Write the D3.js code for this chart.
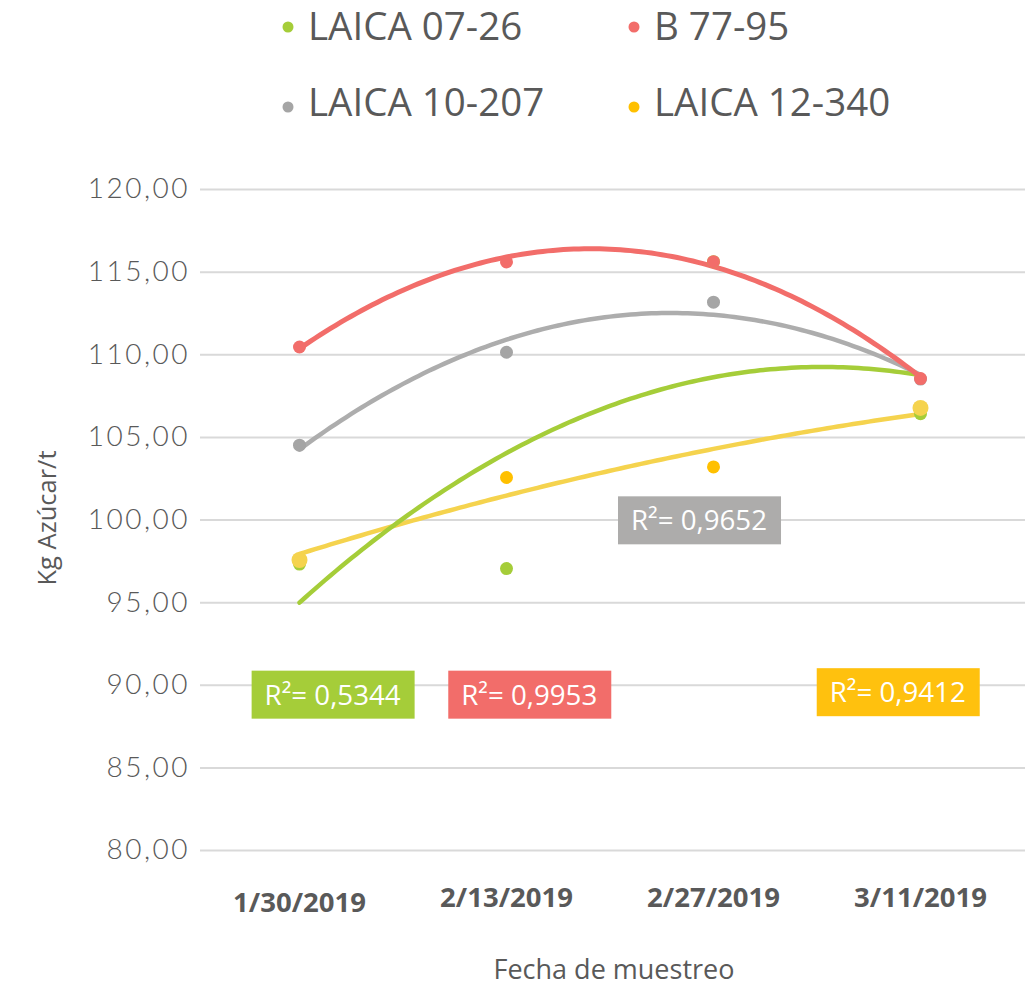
<!DOCTYPE html>
<html>
<head>
<meta charset="utf-8">
<script src="https://cdn.jsdelivr.net/npm/d3@7"></script>
<style>
  body { margin: 0; background: #fff; }
  svg { display: block; }
</style>
</head>
<body>
<div id="chart"></div>
<script>
// ************data**********************************
const dates = ["1/30/2019", "2/13/2019", "2/27/2019", "3/11/2019"]
const seriesNames = ["LAICA 07-26", "B 77-95", "LAICA 10-207", "LAICA 12-340"]
const laica0726 = [97.3, 97.03, 115.6, 106.4]
const b7795 = [110.44, 115.59, 115.6, 108.53]
const laica10207 = [104.5, 110.12, 113.15, 108.5]
const laica12340 = [97.55, 102.54, 103.18, 106.75]
const r2Labels = ["R²= 0,5344", "R²= 0,9953", "R²= 0,9652", "R²= 0,9412"]
const yTicks = [80, 85, 90, 95, 100, 105, 110, 115, 120]

// ************layout / colours***************
const W = 1025, H = 989
const gridLeft = 200, gridRight = 1025
const pointColor = ["#a5cd39", "#f26d6a", "#a5a5a5", "#ffc000"]
const trendColor = ["#a5cd39", "#f26d6a", "#adadad", "#f5d34e"]
const boxColor = ["#a5cd39", "#f26d6a", "#adacab", "#ffc10e"]
// where each R² box sits, in (category position, value) units
const labelPos = [[1.16, 89.4], [2.11, 89.4], [2.93, 99.95], [3.89, 89.55]]
const textColor = "#595959"

const series = [laica0726, b7795, laica10207, laica12340]

const svg = d3.select("#chart")
  .append("svg")
  .attr("width", W)
  .attr("height", H)

const x = d3.scaleBand()
  .domain(dates)
  .range([196, 1024])
const xc = (d) => x(d) + x.bandwidth() / 2

// category index (1..4) -> pixel, used by the trend curves and labels
const xi = d3.scaleLinear()
  .domain([1, dates.length])
  .range([xc(dates[0]), xc(dates[dates.length - 1])])

const y = d3.scaleLinear()
  .domain([80, 120])
  .range([850, 189])

// gridlines + y labels
const yAxis = d3.axisLeft(y)
  .tickValues(yTicks)
  .tickSize(-(gridRight - gridLeft))
  .tickPadding(10)
  .tickFormat((d) => d3.format(".2f")(d).replace(".", ","))

svg.append("g")
  .attr("class", "y-axis")
  .attr("transform", "translate(" + gridLeft + ",0)")
  .call(yAxis)
  .call((g) => g.select(".domain").remove())
  .call((g) => g.selectAll("line").attr("stroke", "#d9d9d9").attr("stroke-width", 2))
  .call((g) => g.selectAll("text")
    .attr("fill", textColor)
    .style("font-family", "Lato, 'Open Sans', sans-serif")
    .style("font-weight", 300)
    .style("font-size", "28px")
    .style("letter-spacing", "2.5px"))

// x labels
svg.append("g")
  .attr("class", "x-axis")
  .selectAll("text")
  .data(dates)
  .enter()
  .append("text")
  .attr("x", (d) => xc(d))
  .attr("y", (d, i) => i == 0 ? 912 : 907)
  .attr("text-anchor", "middle")
  .attr("fill", textColor)
  .style("font-family", "'Open Sans', sans-serif")
  .style("font-weight", 700)
  .style("font-size", "27.5px")
  .text((d) => d)

// axis titles
svg.append("text")
  .attr("x", 614)
  .attr("y", 979)
  .attr("text-anchor", "middle")
  .attr("fill", textColor)
  .style("font-family", "'Open Sans', sans-serif")
  .style("font-size", "27px")
  .text("Fecha de muestreo")

svg.append("text")
  .attr("transform", "translate(56,518) rotate(-90)")
  .attr("text-anchor", "middle")
  .attr("fill", textColor)
  .style("font-family", "'Open Sans', sans-serif")
  .style("font-size", "25.5px")
  .text("Kg Azúcar/t")

// ************quadratic least-squares trendline***************
function quadFit(vals) {
  const xs = vals.map((v, i) => i + 1)
  let s = [0, 0, 0, 0, 0], t = [0, 0, 0]
  xs.forEach((xv, i) => {
    for (let k = 0; k < 5; k++) s[k] += Math.pow(xv, k)
    for (let k = 0; k < 3; k++) t[k] += Math.pow(xv, k) * vals[i]
  })
  // solve 3x3 normal equations (Cramer)
  const M = [[s[0], s[1], s[2]], [s[1], s[2], s[3]], [s[2], s[3], s[4]]]
  const det = (m) => m[0][0] * (m[1][1] * m[2][2] - m[1][2] * m[2][1]) -
    m[0][1] * (m[1][0] * m[2][2] - m[1][2] * m[2][0]) +
    m[0][2] * (m[1][0] * m[2][1] - m[1][1] * m[2][0])
  const D = det(M)
  const coef = [0, 1, 2].map((c) => {
    const m = M.map((row, r) => row.map((v, k) => k == c ? t[r] : v))
    return det(m) / D
  })
  return (xv) => coef[0] + coef[1] * xv + coef[2] * xv * xv
}

const line = d3.line()
  .x((d) => xi(d[0]))
  .y((d) => y(d[1]))

// trendlines, drawn yellow first, red last
const trendOrder = [3, 0, 2, 1]
const trendG = svg.append("g").attr("class", "trends")
trendOrder.forEach((si) => {
  const f = quadFit(series[si])
  const pts = d3.range(0, 121).map((k) => {
    const xv = 1 + 3 * k / 120
    return [xv, f(xv)]
  })
  trendG.append("path")
    .datum(pts)
    .attr("d", line)
    .attr("fill", "none")
    .attr("stroke", trendColor[si])
    .attr("stroke-width", si == 1 ? 5 : 4.5)
    .attr("stroke-linecap", "round")
})

// scatter points: green first so red / yellow sit on top
const pointOrder = [0, 2, 1, 3]
pointOrder.forEach((si) => {
  svg.append("g")
    .selectAll(".dot")
    .data(series[si])
    .enter()
    .append("circle")
    .attr("class", "dot")
    .attr("cx", (d, i) => xc(dates[i]))
    .attr("cy", (d) => y(d))
    .attr("r", 6.5)
    .attr("fill", pointColor[si])
})

// first and last yellow markers are drawn larger, in the trendline colour
svg.append("g")
  .selectAll("circle")
  .data([0, 3])
  .enter()
  .append("circle")
  .attr("cx", (i) => xc(dates[i]))
  .attr("cy", (i) => y(laica12340[i]))
  .attr("r", 8)
  .attr("fill", trendColor[3])

// ************R² labels***************
const labels = svg.selectAll(".r2")
  .data(r2Labels)
  .enter()
  .append("g")
  .attr("class", "r2")
  .attr("transform", (d, i) => "translate(" + xi(labelPos[i][0]) + "," + y(labelPos[i][1]) + ")")

labels.append("rect")
  .attr("x", -81)
  .attr("y", -24)
  .attr("width", 163)
  .attr("height", 48)
  .attr("fill", (d, i) => boxColor[i])

labels.append("text")
  .attr("text-anchor", "middle")
  .attr("dy", "0.36em")
  .attr("fill", "#fff")
  .attr("textLength", 136)
  .attr("lengthAdjust", "spacingAndGlyphs")
  .style("font-family", "'Open Sans', sans-serif")
  .style("font-size", "28px")
  .text((d) => d)

// ************legend***************
const legend = svg.selectAll(".legend")
  .data(seriesNames)
  .enter()
  .append("g")
  .attr("class", "legend")
  .attr("transform", (d, i) => "translate(" + (i % 2 == 0 ? 288 : 634) + "," + (i < 2 ? 40 : 116) + ")")

legend.append("circle")
  .attr("cx", 0)
  .attr("cy", (d, i) => i < 2 ? -13 : -9)
  .attr("r", 5.5)
  .attr("fill", (d, i) => pointColor[i])

legend.append("text")
  .attr("x", 20)
  .attr("fill", textColor)
  .style("font-family", "'Open Sans', sans-serif")
  .style("font-size", "38.5px")
  .text((d) => d)
</script>
</body>
</html>
